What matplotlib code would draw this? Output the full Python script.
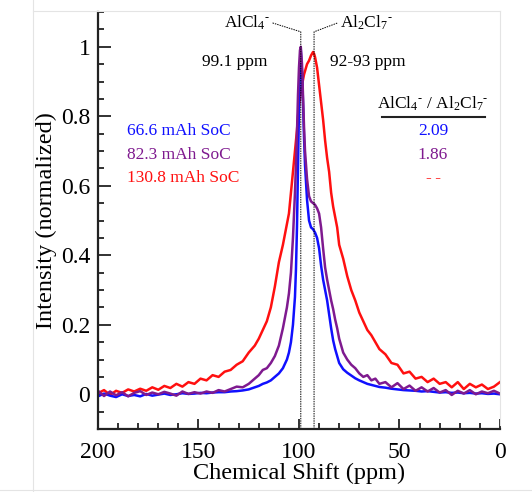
import numpy as np
import matplotlib.pyplot as plt
from matplotlib.lines import Line2D
from matplotlib.ticker import MultipleLocator

plt.rcParams['font.family'] = 'Liberation Serif'
plt.rcParams['mathtext.fontset'] = 'custom'
plt.rcParams['mathtext.rm'] = 'Liberation Serif'
plt.rcParams['mathtext.it'] = 'Liberation Serif:italic'

# chemical shift grid (ppm)
ppm = [200, 197, 194, 191, 188, 185, 182, 179, 176, 173, 170, 167, 164, 161, 158,
       155, 152, 149, 146, 143, 140, 137, 134, 131, 128, 125, 122,
       120, 118, 116, 114, 112, 110, 108, 106, 105, 104, 103, 102,
       101.5, 101, 100.5, 100, 99.5, 99.1, 98.5, 98, 97.5, 97,
       96, 95, 94, 93, 92.5, 92, 91, 90, 89, 88, 87, 86, 85, 84, 83, 82, 81, 80,
       78, 76, 74, 72, 70, 68, 66, 64, 62, 60,
       57, 54, 51, 48, 45, 42, 39, 36, 33, 30, 27, 24, 21, 18, 15, 12, 9, 6, 3, 0]

# 66.6 mAh SoC
soc_66 = [-0.006, 0.002, -0.004, -0.008, 0.000, -0.005, -0.002, -0.006, 0.001, -0.004,
          -0.001, 0.002, -0.002, 0.000, 0.003, 0.001, 0.002, 0.004, 0.003, 0.005,
          0.006, 0.006, 0.008, 0.009, 0.011, 0.014, 0.020,
          0.024, 0.030, 0.034, 0.040, 0.050, 0.060, 0.075, 0.100, 0.120, 0.150, 0.200, 0.280,
          0.360, 0.480, 0.650, 0.820, 0.950, 0.990, 0.930, 0.840, 0.740, 0.660,
          0.560, 0.500, 0.480, 0.475, 0.470, 0.465, 0.450, 0.420, 0.370, 0.330, 0.300,
          0.270, 0.230, 0.190, 0.155, 0.130, 0.110, 0.090,
          0.072, 0.062, 0.054, 0.046, 0.040, 0.035, 0.030, 0.027, 0.024, 0.021,
          0.019, 0.016, 0.014, 0.012, 0.011, 0.010, 0.008, 0.009, 0.007, 0.005,
          0.006, 0.004, 0.005, 0.003, 0.004, 0.002, 0.003, 0.001, 0.002, 0.000]

# 82.3 mAh SoC
soc_82 = [0.010, -0.005, 0.008, -0.003, 0.006, -0.006, 0.004, 0.009, -0.002, 0.005,
          0.000, 0.007, 0.002, -0.004, 0.008, 0.001, 0.006, 0.002, 0.008, 0.004,
          0.012, 0.008, 0.015, 0.022, 0.020, 0.030, 0.045,
          0.055, 0.070, 0.075, 0.090, 0.110, 0.140, 0.190, 0.250, 0.290, 0.350, 0.450, 0.580,
          0.660, 0.750, 0.860, 0.940, 0.990, 1.000, 0.950, 0.860, 0.770, 0.700,
          0.620, 0.570, 0.555, 0.550, 0.548, 0.545, 0.535, 0.520, 0.480, 0.420, 0.365,
          0.330, 0.300, 0.270, 0.245, 0.215, 0.190, 0.160,
          0.120, 0.100, 0.085, 0.075, 0.060, 0.050, 0.055, 0.040, 0.045, 0.030,
          0.035, 0.020, 0.032, 0.015, 0.025, 0.010, 0.020, 0.008, 0.018, 0.005,
          0.012, -0.002, 0.010, 0.002, 0.012, 0.000, 0.008, 0.003, 0.010, 0.002]

# 130.8 mAh SoC
soc_130 = [0.003, 0.012, -0.002, 0.010, 0.004, 0.014, 0.008, 0.016, 0.010, 0.020,
           0.013, 0.024, 0.018, 0.030, 0.022, 0.035, 0.030, 0.045, 0.040, 0.055,
           0.050, 0.065, 0.070, 0.085, 0.095, 0.120, 0.140,
           0.160, 0.185, 0.210, 0.250, 0.310, 0.380, 0.430, 0.490, 0.520, 0.580, 0.640, 0.700,
           0.730, 0.760, 0.800, 0.830, 0.850, 0.870, 0.890, 0.905, 0.920, 0.930,
           0.950, 0.960, 0.975, 0.985, 0.980, 0.970, 0.940, 0.890, 0.840, 0.790, 0.730,
           0.680, 0.640, 0.580, 0.540, 0.510, 0.480, 0.430,
           0.390, 0.340, 0.300, 0.270, 0.235, 0.210, 0.185, 0.170, 0.150, 0.130,
           0.115, 0.090, 0.085, 0.060, 0.065, 0.045, 0.050, 0.035, 0.045, 0.030,
           0.035, 0.020, 0.035, 0.015, 0.030, 0.020, 0.028, 0.015, 0.022, 0.035]

labels = ['66.6 mAh SoC', '82.3 mAh SoC', '130.8 mAh SoC']
ratios = ['2.09', '1.86', '-\u2009-']
colors = ['#1010ff', '#7f1a8f', '#ff1010']

fig = plt.figure(figsize=(5.32, 4.92), dpi=100)
ax = fig.add_axes([0.1842, 0.128, 0.7556, 0.8476])

for y, c in zip([soc_130, soc_66, soc_82], [colors[2], colors[0], colors[1]]):
    ax.plot(ppm, y, color=c, lw=1.8)

ax.set_xlim(200, 0)
ax.set_ylim(-0.1, 1.1)
ax.xaxis.set_major_locator(MultipleLocator(50))
ax.xaxis.set_minor_locator(MultipleLocator(10))
ax.yaxis.set_minor_locator(MultipleLocator(0.05))
ax.set_yticks([0, 0.2, 0.4, 0.6, 0.8, 1.0])
ax.set_yticklabels(['0', '0.2', '0.4', '0.6', '0.8', '1'])
ax.tick_params(axis='both', which='both', direction='in', labelsize=17,
               color='#222222', width=1.3)
ax.tick_params(axis='y', which='major', length=9, pad=5.5)
ax.tick_params(axis='y', which='minor', length=4.5)
ax.tick_params(axis='x', which='major', length=7, pad=9)
ax.tick_params(axis='x', which='minor', length=4.5)
for s in ['top', 'right']:
    ax.spines[s].set_visible(False)
for s in ['left', 'bottom']:
    ax.spines[s].set_linewidth(1.6)
    ax.spines[s].set_color('#222222')

ax.set_xlabel('Chemical Shift (ppm)', fontsize=17.5, labelpad=0)
ax.set_ylabel('Intensity (normalized)', fontsize=17.5, labelpad=3)

# peak markers
sup = '$^{\u2010}$'
for x0, x1, txt, ha in [(99.1, 113.4, 'AlCl$_4$' + sup, 'right'),
                        (92.5, 80.6, 'Al$_2$Cl$_7$' + sup, 'left')]:
    ax.plot([x0, x0, x1], [-0.1, 1.043, 1.069], color='black', lw=0.7,
            ls=(0, (1.5, 1)), clip_on=False)
    ax.text(x1 + (1 if ha == 'right' else -1), 1.069, txt, ha=ha, va='center',
            fontsize=12.5)

ax.text(131.8, 0.957, '99.1 ppm', ha='center', va='center', fontsize=12.5)
ax.text(65.7, 0.957, '92-93 ppm', ha='center', va='center', fontsize=12.5)

ys = [0.758, 0.689, 0.622]
for lab, r, c, yy in zip(labels, ratios, colors, ys):
    ax.text(185.6, yy, lab, color=c, ha='left', va='center', fontsize=12.5)
    ax.text(33.3, yy, r, color=c, ha='center', va='center', fontsize=12.5)

ax.text(33.3, 0.835, 'AlCl$_4$' + sup + ' / Al$_2$Cl$_7$' + sup, ha='center',
        va='center', fontsize=12.5)
ax.plot([58.7, 7.5], [0.798, 0.798], color='#222222', lw=1.5)

# faint frame of the original screenshot
for xs, ys_ in [([0.062, 0.062], [0, 1]), ([0.062, 0.94], [0.978, 0.978]),
                ([0.94, 0.94], [0.978, 0.137]), ([0, 1], [0.004, 0.004])]:
    fig.add_artist(Line2D(xs, ys_, color='#e4e4e4', lw=0.8))

plt.savefig('out.png', dpi=100)
